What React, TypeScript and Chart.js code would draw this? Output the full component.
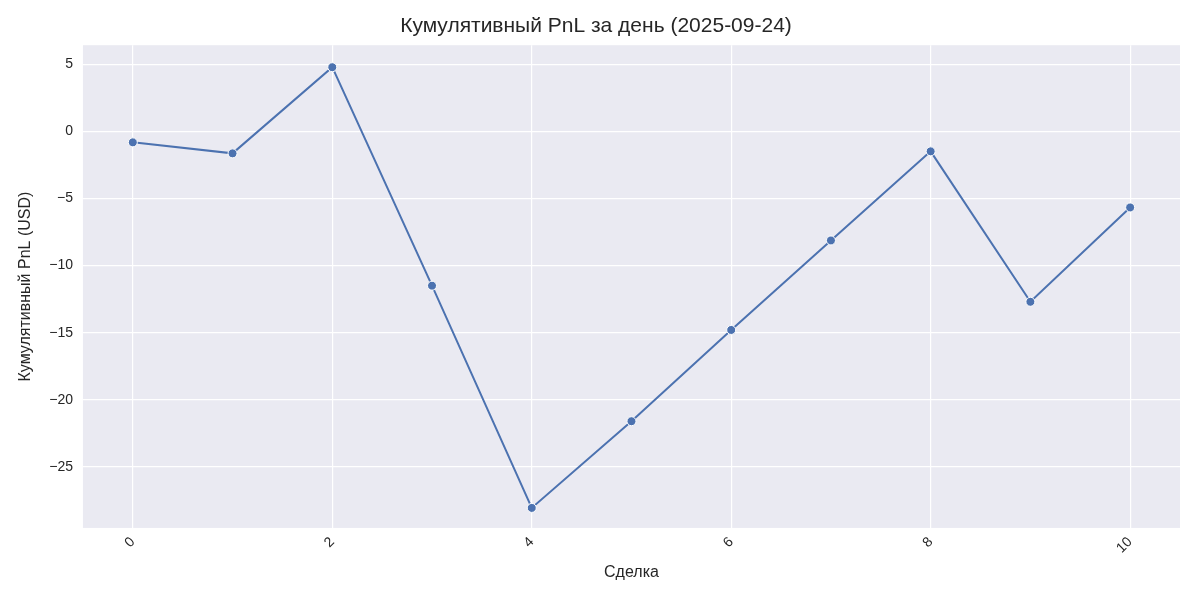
import React, { useEffect, useRef } from "react";
import { Chart, registerables } from "chart.js";
Chart.register(...registerables);

const trades = [0, 1, 2, 3, 4, 5, 6, 7, 8, 9, 10];
const cumPnl = [-0.82, -1.64, 4.78, -11.5, -28.06, -21.6, -14.8, -8.13, -1.49, -12.7, -5.67];

const bgPlugin = {
  id: "bg",
  beforeDraw(chart: any) {
    const { ctx, chartArea: a } = chart;
    ctx.save();
    ctx.fillStyle = "#eaeaf2";
    ctx.fillRect(a.left, a.top, a.right - a.left, a.bottom - a.top);
    ctx.restore();
  },
};

export default function App() {
  const ref = useRef<HTMLCanvasElement>(null);
  useEffect(() => {
    document.body.style.margin = "0";
    const font = "'Liberation Sans', Arial, sans-serif";
    const c = new Chart(ref.current!, {
      type: "line",
      data: {
        datasets: [{
          data: trades.map((t, i) => ({ x: t, y: cumPnl[i] })),
          borderColor: "#4c72b0",
          backgroundColor: "#4c72b0",
          borderWidth: 2,
          pointRadius: 4.5,
          pointBorderColor: "#ffffff",
          pointBorderWidth: 1,
          tension: 0,
        }],
      },
      options: {
        animation: false,
        responsive: false,
        layout: { padding: { top: 0, right: 20, left: 12, bottom: 14 } },
        plugins: {
          legend: { display: false },
          tooltip: { enabled: false },
          title: {
            display: true,
            text: "Кумулятивный PnL за день (2025-09-24)",
            color: "#262626",
            font: { family: font, size: 21, weight: "normal" },
            padding: { top: 14, bottom: 6 },
          },
        },
        scales: {
          x: {
            type: "linear",
            min: -0.5,
            max: 10.5,
            afterBuildTicks: (ax: any) => { ax.ticks = [0, 2, 4, 6, 8, 10].map(v => ({ value: v })); },
            grid: { color: "#ffffff", lineWidth: 1.2, drawTicks: false },
            border: { display: false },
            ticks: { color: "#262626", font: { family: font, size: 14 }, maxRotation: 45, minRotation: 45, padding: 6 },
            title: { display: true, text: "Сделка", color: "#262626", font: { family: font, size: 16 }, padding: { top: 0 } },
          },
          y: {
            min: -29.55,
            max: 6.42,
            afterBuildTicks: (ax: any) => { ax.ticks = [5, 0, -5, -10, -15, -20, -25].map(v => ({ value: v })); },
            grid: { color: "#ffffff", lineWidth: 1.2, drawTicks: false },
            border: { display: false },
            ticks: {
              color: "#262626", font: { family: font, size: 14 }, padding: 10,
              callback: (v: any) => String(v).replace("-", "−"),
            },
            title: { display: true, text: "Кумулятивный PnL (USD)", color: "#262626", font: { family: font, size: 16 } },
          },
        },
      },
      plugins: [bgPlugin],
    } as any);
    return () => c.destroy();
  }, []);
  return <canvas ref={ref} width={1200} height={600} style={{ display: "block" }} />;
}
